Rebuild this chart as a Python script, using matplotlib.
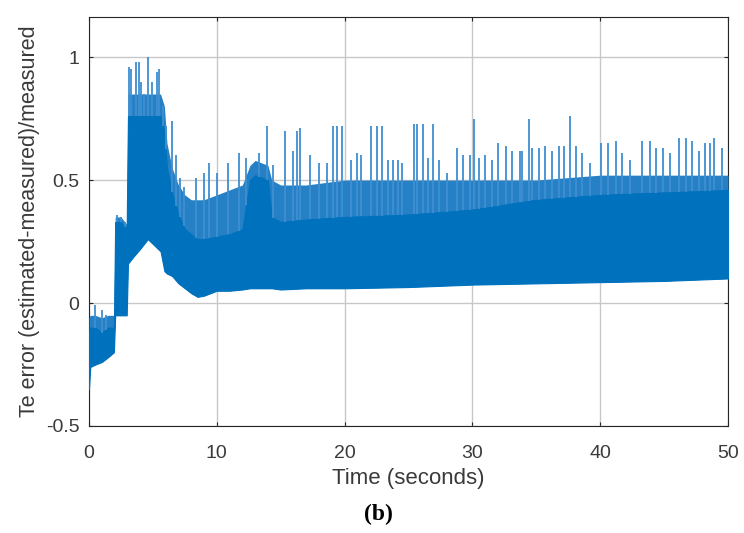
import matplotlib
matplotlib.use("Agg")
import matplotlib.pyplot as plt
import numpy as np

# envelope of the dense part of the signal
t_env = [0, 0.1, 0.5, 1.0, 1.5, 1.95, 2.05, 2.5, 2.95, 3.05, 3.5, 4.0, 4.6, 5.0, 5.6, 5.9,
         6.1, 6.5, 7.0, 7.5, 8.0, 8.5, 9, 10, 11, 12, 12.6, 13, 14, 14.3, 15, 17, 20, 25,
         30, 35, 40, 45, 50]
low_env = [-0.35, -0.26, -0.25, -0.24, -0.22, -0.20, -0.05, -0.05, -0.05, 0.16, 0.19, 0.22,
           0.26, 0.24, 0.21, 0.13, 0.12, 0.11, 0.08, 0.06, 0.04, 0.025, 0.03, 0.05, 0.05,
           0.055, 0.06, 0.06, 0.06, 0.06, 0.055, 0.06, 0.06, 0.065, 0.075, 0.08, 0.085, 0.09,
           0.10]
top_env = [-0.12, -0.10, -0.10, -0.12, -0.10, -0.10, 0.33, 0.33, 0.30, 0.76, 0.76, 0.76,
           0.76, 0.76, 0.76, 0.70, 0.55, 0.45, 0.36, 0.30, 0.28, 0.26, 0.26, 0.27, 0.28,
           0.30, 0.50, 0.52, 0.50, 0.35, 0.33, 0.34, 0.35, 0.36, 0.38, 0.42, 0.44, 0.45, 0.46]
fringe_env = [-0.06, -0.05, -0.05, -0.06, -0.05, -0.05, 0.35, 0.35, 0.32, 0.85, 0.85, 0.85,
              0.85, 0.85, 0.85, 0.80, 0.65, 0.55, 0.48, 0.44, 0.42, 0.42, 0.42, 0.44, 0.46,
              0.48, 0.56, 0.58, 0.56, 0.50, 0.48, 0.48, 0.50, 0.50, 0.50, 0.50, 0.52, 0.52,
              0.52]

# isolated spikes above the band: time, peak value
spike_t = [0.5, 1.0, 1.3, 2.2, 2.5, 2.8,
           3.1, 3.3, 3.7, 3.9, 4.1, 4.3, 4.6, 4.9, 5.3, 5.5, 5.8, 6.0, 6.5, 6.8,
           7.1, 7.4, 8.4, 9.0, 9.4, 10.0, 10.9, 11.7, 12.3, 13.3, 13.9, 14.4,
           15.3, 16.0, 16.3, 16.5, 17.3, 18.0, 18.6, 19.1, 19.4, 19.8, 20.5, 21.0, 21.3,
           22.1, 22.5, 22.9, 23.4, 23.8, 24.2, 24.5, 25.4, 25.7, 26.1, 26.5, 26.9, 27.4,
           28.0, 28.8, 29.3, 29.8, 30.1, 30.5, 31.0, 31.5, 32.0,
           32.6, 33.1, 33.7, 33.9, 34.4, 34.7, 35.2, 35.7, 36.2, 36.8, 37.2, 37.6, 38.1,
           38.6, 39.2, 40.1, 40.6, 41.2, 41.7, 42.3, 43.3, 43.9, 44.4, 44.9, 45.5, 46.2,
           46.7, 47.2, 47.7, 48.2, 48.6, 48.9, 49.5]
spike_v = [-0.01, -0.03, -0.05, 0.36, 0.35, 0.33,
           0.96, 0.95, 0.98, 0.98, 0.90, 0.85, 1.00, 0.90, 0.94, 0.95, 0.80, 0.72, 0.74, 0.60,
           0.51, 0.47, 0.51, 0.53, 0.57, 0.53, 0.57, 0.61, 0.59, 0.61, 0.72, 0.56,
           0.70, 0.62, 0.70, 0.71, 0.60, 0.57, 0.57, 0.72, 0.72, 0.72, 0.58, 0.61, 0.60,
           0.72, 0.72, 0.72, 0.58, 0.58, 0.58, 0.57, 0.73, 0.73, 0.73, 0.59, 0.73, 0.58,
           0.53, 0.63, 0.60, 0.60, 0.75, 0.59, 0.60, 0.58, 0.65,
           0.64, 0.62, 0.62, 0.62, 0.75, 0.63, 0.63, 0.64, 0.62, 0.64, 0.64, 0.76, 0.64,
           0.61, 0.57, 0.65, 0.65, 0.66, 0.61, 0.58, 0.66, 0.66, 0.63, 0.63, 0.61, 0.67,
           0.67, 0.66, 0.62, 0.65, 0.65, 0.67, 0.63]

x_ticks = [0, 10, 20, 30, 40, 50]
y_ticks = [-0.5, 0, 0.5, 1]
y_tick_labels = ["-0.5", "0", "0.5", "1"]

blue = "#0072BD"
light_blue = "#3f8fd0"
plt.rcParams["font.family"] = ["Liberation Sans", "DejaVu Sans"]

fig = plt.figure(figsize=(7.44, 5.33), dpi=100)
ax = fig.add_axes([0.1196, 0.2008, 0.8589, 0.7672])

# lighter fringe where the trace is sparse, then the solid band, then spikes
ax.fill_between(t_env, low_env, fringe_env, color="#2580c6", linewidth=0, zorder=3)
ax.fill_between(t_env, low_env, top_env, color=blue, linewidth=0.8, edgecolor=blue, zorder=3)
base = np.interp(spike_t, t_env, top_env)
ax.vlines(spike_t, base, spike_v, color=light_blue, linewidth=1.3, zorder=3)

ax.set_xlim(0, 50)
ax.set_ylim(-0.5, 1.163)
ax.set_xticks(x_ticks)
ax.set_yticks(y_ticks)
ax.set_yticklabels(y_tick_labels)
ax.grid(True, color="#c8c8c8", linewidth=1.0, zorder=0)
ax.set_axisbelow(True)
ax.tick_params(direction="in", top=True, right=True, length=3, width=0.8,
               colors="#262626", labelsize=14, labelcolor="#3a3a3a")
ax.tick_params(axis="x", pad=14)
ax.tick_params(axis="y", pad=7)
for s in ax.spines.values():
    s.set_color("#262626")
    s.set_linewidth(0.8)

ax.set_xlabel("Time (seconds)", fontsize=16, color="#3a3a3a", labelpad=4)
ax.set_ylabel("Te error (estimated-measured)/measured", fontsize=15.5, color="#3a3a3a",
              labelpad=4)

fig.text(0.509, 0.034, "(b)", ha="center", va="center", fontsize=17,
         fontweight="bold", family=["Liberation Serif", "DejaVu Serif"])

fig.savefig("out.png", dpi=100)
